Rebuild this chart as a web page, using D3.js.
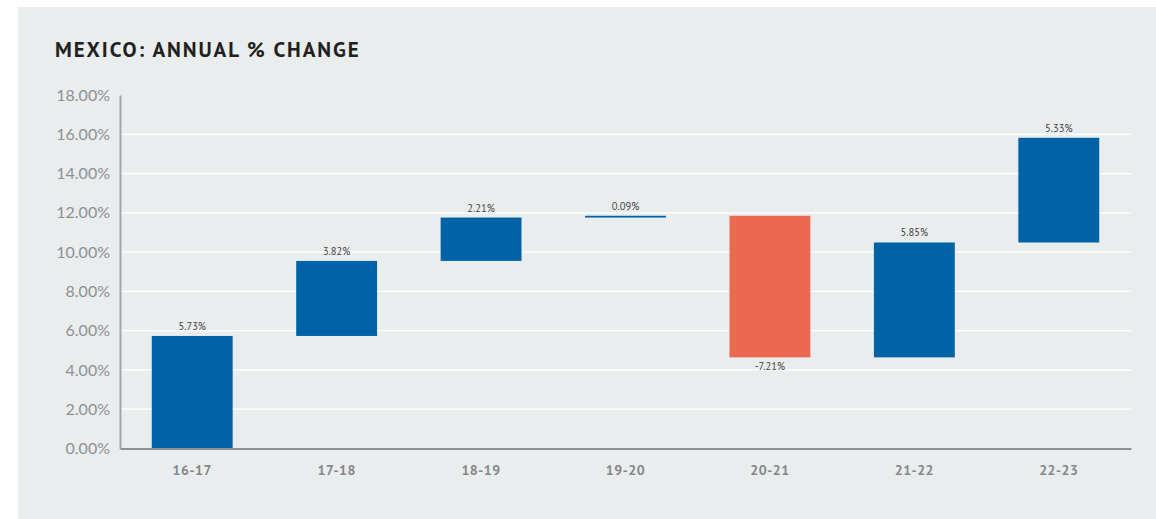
<!DOCTYPE html>
<html><head><meta charset="utf-8">
<script src="https://cdn.jsdelivr.net/npm/d3@7"></script>
<style>
body{margin:0;background:#fff;}
svg{display:block;}
</style></head>
<body>
<svg id="c" width="1156" height="519"></svg>
<script>
const categories = ["16-17","17-18","18-19","19-20","20-21","21-22","22-23"];
const changes = [5.73, 3.82, 2.21, 0.09, -7.21, 5.85, 5.33];
const yTicks = [0,2,4,6,8,10,12,14,16,18];
const title = "MEXICO: ANNUAL % CHANGE";

const svg = d3.select("#c");
svg.append("rect").attr("x",18).attr("y",7).attr("width",1138).attr("height",512).attr("fill","#EAEDEE");

const m = {l:120, r:1131, t:95, b:448.5};
const x = d3.scaleBand().domain(categories).range([m.l, m.r]).paddingInner(0.44).paddingOuter(0.22);
const y = d3.scaleLinear().domain([0,18]).range([m.b, m.t]);

// waterfall
let cum = 0;
const data = categories.map((c,i)=>{const s=cum; cum+=changes[i]; return {c, v:changes[i], s, e:cum};});

svg.append("text").attr("x",55).attr("y",57).text(title)
  .attr("font-family","'PT Sans', Lato, 'Open Sans', sans-serif").attr("font-weight","bold")
  .attr("font-size",21).attr("letter-spacing",1.9).attr("fill","#231F20");

// grid
svg.append("g").selectAll("line").data(yTicks.filter(t=>t>0 && t<18)).join("line")
  .attr("x1",m.l).attr("x2",m.r).attr("y1",d=>y(d)).attr("y2",d=>y(d))
  .attr("stroke","#ffffff").attr("stroke-width",1.3);

// y axis
const ya = svg.append("g").attr("transform",`translate(${m.l},0)`)
  .call(d3.axisLeft(y).tickValues(yTicks).tickSize(0).tickPadding(10).tickFormat(d=>d.toFixed(2)+"%"));
ya.select(".domain").attr("stroke","#A3A6A8").attr("stroke-width",2);
ya.selectAll("text").attr("font-family","Lato, sans-serif").attr("font-size",16).attr("fill","#8E9092");

// bars
svg.append("g").selectAll("rect").data(data).join("rect")
  .attr("x",d=>x(d.c)).attr("width",x.bandwidth())
  .attr("y",d=>y(Math.max(d.s,d.e))).attr("height",d=>Math.max(1.5, Math.abs(y(d.s)-y(d.e))))
  .attr("fill",d=>d.v<0?"#EC6851":"#0063A6");

// value labels
svg.append("g").selectAll("text").data(data).join("text")
  .attr("x",d=>x(d.c)+x.bandwidth()/2)
  .attr("y",d=>d.v<0 ? y(d.e)+13 : y(d.e)-6)
  .attr("text-anchor","middle").attr("font-family","'PT Sans', 'Open Sans', sans-serif").attr("font-size",10.5)
  .attr("fill","#444").text(d=>d.v.toFixed(2)+"%");

// x axis
const xa = svg.append("g").attr("transform",`translate(0,${m.b})`)
  .call(d3.axisBottom(x).tickSize(0).tickPadding(17));
xa.select(".domain").attr("stroke","#8E9092").attr("stroke-width",2);
xa.selectAll("text").attr("font-family","'PT Sans', Lato, sans-serif").attr("font-weight","bold")
  .attr("font-size",14).attr("fill","#858789").attr("letter-spacing",0.5);
</script>
</body></html>
